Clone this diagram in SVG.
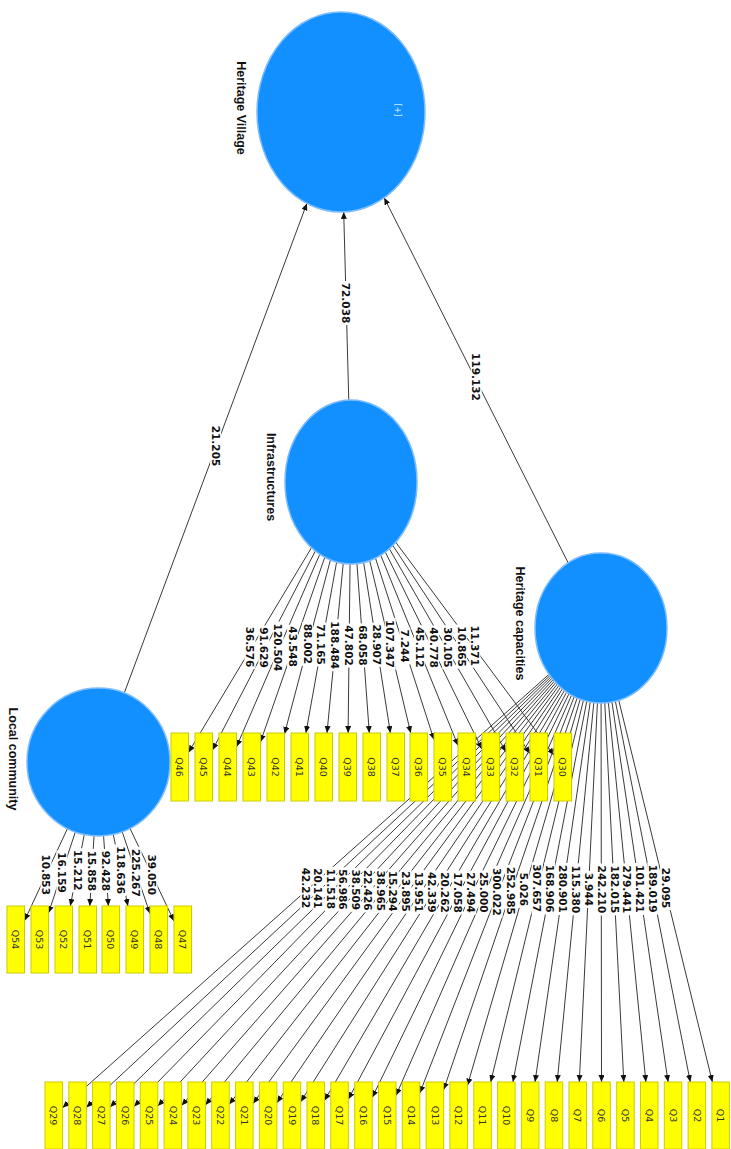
<svg xmlns="http://www.w3.org/2000/svg" width="731" height="1149" viewBox="0 0 731 1149">
<style>
.c line{stroke:#3a3a3a;stroke-width:1;fill:none;marker-end:url(#ah)}
.lb rect{fill:#fff}
.lb text{font-family:'DejaVu Sans',Verdana,sans-serif;font-weight:bold;font-size:10.5px;fill:#111;text-anchor:middle}
.lat ellipse{fill:#1290ff;stroke:#7dbcff;stroke-width:1.5}
.nm{font-family:'Liberation Sans',Arial,sans-serif;font-weight:bold;font-size:12.5px;fill:#111;text-anchor:middle}
.ind rect{fill:#ffff00;stroke:#cccc00;stroke-width:1}
.ind text{font-family:'DejaVu Sans',Verdana,sans-serif;font-size:9.5px;fill:#333;text-anchor:middle}
</style>
<defs>
<marker id="ah" markerUnits="userSpaceOnUse" markerWidth="8" markerHeight="7" refX="7" refY="3" orient="auto"><path d="M0,0 L7,3 L0,6 z" fill="#111"/></marker>
</defs>
<rect width="731" height="1149" fill="#fff"/>
<g id="connectors" class="c">
<line x1="98.5" y1="762" x2="306.9" y2="203.4"/>
<line x1="351" y1="482" x2="343.7" y2="211.9"/>
<line x1="601" y1="628" x2="384.2" y2="197.8"/>
<line x1="351" y1="482" x2="188.5" y2="752.4"/>
<line x1="351" y1="482" x2="212.5" y2="750.1"/>
<line x1="351" y1="482" x2="236.5" y2="746.8"/>
<line x1="351" y1="482" x2="260.5" y2="741.9"/>
<line x1="351" y1="482" x2="284.5" y2="733.9"/>
<line x1="351" y1="482" x2="305.9" y2="733"/>
<line x1="351" y1="482" x2="327" y2="733"/>
<line x1="351" y1="482" x2="348.1" y2="733"/>
<line x1="351" y1="482" x2="369.3" y2="733"/>
<line x1="351" y1="482" x2="390.4" y2="733"/>
<line x1="351" y1="482" x2="410.7" y2="733"/>
<line x1="351" y1="482" x2="434" y2="739.8"/>
<line x1="351" y1="482" x2="458" y2="745.5"/>
<line x1="351" y1="482" x2="482" y2="749.2"/>
<line x1="351" y1="482" x2="506" y2="751.8"/>
<line x1="351" y1="482" x2="530" y2="753.7"/>
<line x1="351" y1="482" x2="554" y2="755.2"/>
<line x1="98.5" y1="762" x2="24.5" y2="920.7"/>
<line x1="98.5" y1="762" x2="48.5" y2="913.1"/>
<line x1="98.5" y1="762" x2="70.3" y2="906"/>
<line x1="98.5" y1="762" x2="89.8" y2="906"/>
<line x1="98.5" y1="762" x2="108.4" y2="906"/>
<line x1="98.5" y1="762" x2="127.9" y2="906"/>
<line x1="98.5" y1="762" x2="150" y2="913.7"/>
<line x1="98.5" y1="762" x2="174" y2="921.1"/>
<line x1="601" y1="628" x2="62.5" y2="1107.7"/>
<line x1="601" y1="628" x2="86.3" y2="1107.4"/>
<line x1="601" y1="628" x2="110.1" y2="1107"/>
<line x1="601" y1="628" x2="134" y2="1106.5"/>
<line x1="601" y1="628" x2="157.8" y2="1106.1"/>
<line x1="601" y1="628" x2="181.6" y2="1105.5"/>
<line x1="601" y1="628" x2="205.4" y2="1105"/>
<line x1="601" y1="628" x2="229.2" y2="1104.3"/>
<line x1="601" y1="628" x2="253.1" y2="1103.5"/>
<line x1="601" y1="628" x2="276.9" y2="1102.7"/>
<line x1="601" y1="628" x2="300.7" y2="1101.7"/>
<line x1="601" y1="628" x2="324.5" y2="1100.5"/>
<line x1="601" y1="628" x2="348.3" y2="1099.2"/>
<line x1="601" y1="628" x2="372.2" y2="1097.5"/>
<line x1="601" y1="628" x2="396" y2="1095.5"/>
<line x1="601" y1="628" x2="419.8" y2="1093"/>
<line x1="601" y1="628" x2="443.6" y2="1089.8"/>
<line x1="601" y1="628" x2="467.4" y2="1085.5"/>
<line x1="601" y1="628" x2="490.7" y2="1082"/>
<line x1="601" y1="628" x2="512.9" y2="1082"/>
<line x1="601" y1="628" x2="535" y2="1082"/>
<line x1="601" y1="628" x2="557.2" y2="1082"/>
<line x1="601" y1="628" x2="579.3" y2="1082"/>
<line x1="601" y1="628" x2="601.5" y2="1082"/>
<line x1="601" y1="628" x2="623.8" y2="1082"/>
<line x1="601" y1="628" x2="645.9" y2="1082"/>
<line x1="601" y1="628" x2="668.1" y2="1082"/>
<line x1="601" y1="628" x2="690.3" y2="1082"/>
<line x1="601" y1="628" x2="712.4" y2="1082"/>
<g class="lb">
<g transform="translate(215.6,446) rotate(90)"><rect x="-22" y="-5.5" width="44" height="11"/><text dy="0.36em">21.205</text></g>
<g transform="translate(346.2,303) rotate(90)"><rect x="-22" y="-5.5" width="44" height="11"/><text dy="0.36em">72.038</text></g>
<g transform="translate(476.2,377) rotate(90)"><rect x="-26" y="-5.5" width="52" height="11"/><text dy="0.36em">119.132</text></g>
<g transform="translate(250,647) rotate(90)"><rect x="-22" y="-5.5" width="44" height="11"/><text dy="0.36em">36.576</text></g>
<g transform="translate(263.9,647.5) rotate(90)"><rect x="-22" y="-5.5" width="44" height="11"/><text dy="0.36em">91.629</text></g>
<g transform="translate(278.1,647.5) rotate(90)"><rect x="-26" y="-5.5" width="52" height="11"/><text dy="0.36em">120.504</text></g>
<g transform="translate(292.6,646.6) rotate(90)"><rect x="-22" y="-5.5" width="44" height="11"/><text dy="0.36em">43.548</text></g>
<g transform="translate(307.5,643.9) rotate(90)"><rect x="-22" y="-5.5" width="44" height="11"/><text dy="0.36em">88.002</text></g>
<g transform="translate(321.2,644.5) rotate(90)"><rect x="-22" y="-5.5" width="44" height="11"/><text dy="0.36em">71.165</text></g>
<g transform="translate(335.1,645.2) rotate(90)"><rect x="-26" y="-5.5" width="52" height="11"/><text dy="0.36em">188.484</text></g>
<g transform="translate(349.1,645.5) rotate(90)"><rect x="-22" y="-5.5" width="44" height="11"/><text dy="0.36em">47.802</text></g>
<g transform="translate(363.1,645.4) rotate(90)"><rect x="-22" y="-5.5" width="44" height="11"/><text dy="0.36em">68.058</text></g>
<g transform="translate(377,644.8) rotate(90)"><rect x="-22" y="-5.5" width="44" height="11"/><text dy="0.36em">28.907</text></g>
<g transform="translate(390.2,643.8) rotate(90)"><rect x="-26" y="-5.5" width="52" height="11"/><text dy="0.36em">107.347</text></g>
<g transform="translate(404.8,646) rotate(90)"><rect x="-18.5" y="-5.5" width="37" height="11"/><text dy="0.36em">7.244</text></g>
<g transform="translate(419.4,647.3) rotate(90)"><rect x="-22" y="-5.5" width="44" height="11"/><text dy="0.36em">45.112</text></g>
<g transform="translate(433.7,647.6) rotate(90)"><rect x="-22" y="-5.5" width="44" height="11"/><text dy="0.36em">40.778</text></g>
<g transform="translate(447.7,647.3) rotate(90)"><rect x="-22" y="-5.5" width="44" height="11"/><text dy="0.36em">30.105</text></g>
<g transform="translate(461.4,646.6) rotate(90)"><rect x="-22" y="-5.5" width="44" height="11"/><text dy="0.36em">10.865</text></g>
<g transform="translate(474.9,645.7) rotate(90)"><rect x="-22" y="-5.5" width="44" height="11"/><text dy="0.36em">11.371</text></g>
<g transform="translate(46,874.7) rotate(90)"><rect x="-22" y="-5.5" width="44" height="11"/><text dy="0.36em">10.853</text></g>
<g transform="translate(61.9,872.5) rotate(90)"><rect x="-22" y="-5.5" width="44" height="11"/><text dy="0.36em">16.159</text></g>
<g transform="translate(77.3,870.3) rotate(90)"><rect x="-22" y="-5.5" width="44" height="11"/><text dy="0.36em">15.212</text></g>
<g transform="translate(91.9,870.9) rotate(90)"><rect x="-22" y="-5.5" width="44" height="11"/><text dy="0.36em">15.858</text></g>
<g transform="translate(106,870.9) rotate(90)"><rect x="-22" y="-5.5" width="44" height="11"/><text dy="0.36em">92.428</text></g>
<g transform="translate(120.6,870.2) rotate(90)"><rect x="-26" y="-5.5" width="52" height="11"/><text dy="0.36em">118.636</text></g>
<g transform="translate(136.1,872.8) rotate(90)"><rect x="-26" y="-5.5" width="52" height="11"/><text dy="0.36em">225.267</text></g>
<g transform="translate(152,874.7) rotate(90)"><rect x="-22" y="-5.5" width="44" height="11"/><text dy="0.36em">39.050</text></g>
<g transform="translate(305.8,888) rotate(90)"><rect x="-22" y="-5.5" width="44" height="11"/><text dy="0.36em">42.232</text></g>
<g transform="translate(318.1,888.4) rotate(90)"><rect x="-22" y="-5.5" width="44" height="11"/><text dy="0.36em">20.141</text></g>
<g transform="translate(330.5,888.9) rotate(90)"><rect x="-22" y="-5.5" width="44" height="11"/><text dy="0.36em">11.518</text></g>
<g transform="translate(343,889.4) rotate(90)"><rect x="-22" y="-5.5" width="44" height="11"/><text dy="0.36em">56.986</text></g>
<g transform="translate(355.5,889.8) rotate(90)"><rect x="-22" y="-5.5" width="44" height="11"/><text dy="0.36em">38.509</text></g>
<g transform="translate(368,890.3) rotate(90)"><rect x="-22" y="-5.5" width="44" height="11"/><text dy="0.36em">22.426</text></g>
<g transform="translate(380.6,890.8) rotate(90)"><rect x="-22" y="-5.5" width="44" height="11"/><text dy="0.36em">38.965</text></g>
<g transform="translate(393.2,891.2) rotate(90)"><rect x="-22" y="-5.5" width="44" height="11"/><text dy="0.36em">15.294</text></g>
<g transform="translate(406,891.6) rotate(90)"><rect x="-22" y="-5.5" width="44" height="11"/><text dy="0.36em">23.895</text></g>
<g transform="translate(418.7,892) rotate(90)"><rect x="-22" y="-5.5" width="44" height="11"/><text dy="0.36em">13.951</text></g>
<g transform="translate(431.6,892.3) rotate(90)"><rect x="-22" y="-5.5" width="44" height="11"/><text dy="0.36em">42.339</text></g>
<g transform="translate(444.5,892.5) rotate(90)"><rect x="-22" y="-5.5" width="44" height="11"/><text dy="0.36em">20.262</text></g>
<g transform="translate(457.5,892.6) rotate(90)"><rect x="-22" y="-5.5" width="44" height="11"/><text dy="0.36em">17.058</text></g>
<g transform="translate(470.6,892.6) rotate(90)"><rect x="-22" y="-5.5" width="44" height="11"/><text dy="0.36em">27.494</text></g>
<g transform="translate(483.8,892.3) rotate(90)"><rect x="-22" y="-5.5" width="44" height="11"/><text dy="0.36em">25.000</text></g>
<g transform="translate(497,891.8) rotate(90)"><rect x="-26" y="-5.5" width="52" height="11"/><text dy="0.36em">300.022</text></g>
<g transform="translate(510.4,890.9) rotate(90)"><rect x="-26" y="-5.5" width="52" height="11"/><text dy="0.36em">252.985</text></g>
<g transform="translate(523.8,889.4) rotate(90)"><rect x="-18.5" y="-5.5" width="37" height="11"/><text dy="0.36em">5.026</text></g>
<g transform="translate(537.1,888.2) rotate(90)"><rect x="-26" y="-5.5" width="52" height="11"/><text dy="0.36em">307.657</text></g>
<g transform="translate(549.8,888.6) rotate(90)"><rect x="-26" y="-5.5" width="52" height="11"/><text dy="0.36em">168.906</text></g>
<g transform="translate(562.6,889) rotate(90)"><rect x="-26" y="-5.5" width="52" height="11"/><text dy="0.36em">280.901</text></g>
<g transform="translate(575.5,889.3) rotate(90)"><rect x="-26" y="-5.5" width="52" height="11"/><text dy="0.36em">115.380</text></g>
<g transform="translate(588.4,889.4) rotate(90)"><rect x="-18.5" y="-5.5" width="37" height="11"/><text dy="0.36em">3.944</text></g>
<g transform="translate(601.3,889.5) rotate(90)"><rect x="-26" y="-5.5" width="52" height="11"/><text dy="0.36em">242.210</text></g>
<g transform="translate(614.3,889.4) rotate(90)"><rect x="-26" y="-5.5" width="52" height="11"/><text dy="0.36em">182.015</text></g>
<g transform="translate(627.2,889.3) rotate(90)"><rect x="-26" y="-5.5" width="52" height="11"/><text dy="0.36em">279.441</text></g>
<g transform="translate(640,889) rotate(90)"><rect x="-26" y="-5.5" width="52" height="11"/><text dy="0.36em">101.421</text></g>
<g transform="translate(652.8,888.6) rotate(90)"><rect x="-26" y="-5.5" width="52" height="11"/><text dy="0.36em">189.019</text></g>
<g transform="translate(665.6,888.1) rotate(90)"><rect x="-22" y="-5.5" width="44" height="11"/><text dy="0.36em">29.095</text></g>
</g>
</g>
<g id="HeritageVillage" class="lat">
<ellipse cx="341" cy="112" rx="84" ry="100"/>
<text class="nm" transform="translate(241,108) rotate(90)" dy="0.36em">Heritage Village</text>
<text transform="translate(398,110) rotate(90)" dy="0.35em" font-family="'DejaVu Sans',sans-serif" font-size="8" fill="#d6ebff" text-anchor="middle">[+]</text>
</g>
<g id="Infrastructures" class="lat">
<ellipse cx="351" cy="482" rx="66" ry="82"/>
<text class="nm" transform="translate(271,477) rotate(90)" dy="0.36em">Infrastructures</text>
</g>
<g id="HeritageCapacities" class="lat">
<ellipse cx="601" cy="628" rx="66" ry="75"/>
<text class="nm" transform="translate(520,623.5) rotate(90)" dy="0.36em">Heritage capacities</text>
</g>
<g id="LocalCommunity" class="lat">
<ellipse cx="98.5" cy="762" rx="71.5" ry="74"/>
<text class="nm" transform="translate(13,759) rotate(90)" dy="0.36em">Local community</text>
</g>
<g id="Q46" class="ind"><rect x="171" y="733" width="17.5" height="68"/><text transform="translate(179.75,767) rotate(90)" dy="0.35em">Q46</text></g>
<g id="Q45" class="ind"><rect x="195" y="733" width="17.5" height="68"/><text transform="translate(203.75,767) rotate(90)" dy="0.35em">Q45</text></g>
<g id="Q44" class="ind"><rect x="219" y="733" width="17.5" height="68"/><text transform="translate(227.75,767) rotate(90)" dy="0.35em">Q44</text></g>
<g id="Q43" class="ind"><rect x="243" y="733" width="17.5" height="68"/><text transform="translate(251.75,767) rotate(90)" dy="0.35em">Q43</text></g>
<g id="Q42" class="ind"><rect x="267" y="733" width="17.5" height="68"/><text transform="translate(275.75,767) rotate(90)" dy="0.35em">Q42</text></g>
<g id="Q41" class="ind"><rect x="291" y="733" width="17.5" height="68"/><text transform="translate(299.75,767) rotate(90)" dy="0.35em">Q41</text></g>
<g id="Q40" class="ind"><rect x="315" y="733" width="17.5" height="68"/><text transform="translate(323.75,767) rotate(90)" dy="0.35em">Q40</text></g>
<g id="Q39" class="ind"><rect x="339" y="733" width="17.5" height="68"/><text transform="translate(347.75,767) rotate(90)" dy="0.35em">Q39</text></g>
<g id="Q38" class="ind"><rect x="363" y="733" width="17.5" height="68"/><text transform="translate(371.75,767) rotate(90)" dy="0.35em">Q38</text></g>
<g id="Q37" class="ind"><rect x="387" y="733" width="17.5" height="68"/><text transform="translate(395.75,767) rotate(90)" dy="0.35em">Q37</text></g>
<g id="Q36" class="ind"><rect x="410" y="733" width="17.5" height="68"/><text transform="translate(418.75,767) rotate(90)" dy="0.35em">Q36</text></g>
<g id="Q35" class="ind"><rect x="434" y="733" width="17.5" height="68"/><text transform="translate(442.75,767) rotate(90)" dy="0.35em">Q35</text></g>
<g id="Q34" class="ind"><rect x="458" y="733" width="17.5" height="68"/><text transform="translate(466.75,767) rotate(90)" dy="0.35em">Q34</text></g>
<g id="Q33" class="ind"><rect x="482" y="733" width="17.5" height="68"/><text transform="translate(490.75,767) rotate(90)" dy="0.35em">Q33</text></g>
<g id="Q32" class="ind"><rect x="506" y="733" width="17.5" height="68"/><text transform="translate(514.75,767) rotate(90)" dy="0.35em">Q32</text></g>
<g id="Q31" class="ind"><rect x="530" y="733" width="17.5" height="68"/><text transform="translate(538.75,767) rotate(90)" dy="0.35em">Q31</text></g>
<g id="Q30" class="ind"><rect x="554" y="733" width="17.5" height="68"/><text transform="translate(562.75,767) rotate(90)" dy="0.35em">Q30</text></g>
<g id="Q54" class="ind"><rect x="7" y="906" width="17.5" height="67"/><text transform="translate(15.75,939.5) rotate(90)" dy="0.35em">Q54</text></g>
<g id="Q53" class="ind"><rect x="31" y="906" width="17.5" height="67"/><text transform="translate(39.75,939.5) rotate(90)" dy="0.35em">Q53</text></g>
<g id="Q52" class="ind"><rect x="55" y="906" width="17.5" height="67"/><text transform="translate(63.75,939.5) rotate(90)" dy="0.35em">Q52</text></g>
<g id="Q51" class="ind"><rect x="79" y="906" width="17.5" height="67"/><text transform="translate(87.75,939.5) rotate(90)" dy="0.35em">Q51</text></g>
<g id="Q50" class="ind"><rect x="102" y="906" width="17.5" height="67"/><text transform="translate(110.75,939.5) rotate(90)" dy="0.35em">Q50</text></g>
<g id="Q49" class="ind"><rect x="126" y="906" width="17.5" height="67"/><text transform="translate(134.75,939.5) rotate(90)" dy="0.35em">Q49</text></g>
<g id="Q48" class="ind"><rect x="150" y="906" width="17.5" height="67"/><text transform="translate(158.75,939.5) rotate(90)" dy="0.35em">Q48</text></g>
<g id="Q47" class="ind"><rect x="174" y="906" width="17.5" height="67"/><text transform="translate(182.75,939.5) rotate(90)" dy="0.35em">Q47</text></g>
<g id="Q29" class="ind"><rect x="45" y="1082" width="17.5" height="67"/><text transform="translate(53.75,1115.5) rotate(90)" dy="0.35em">Q29</text></g>
<g id="Q28" class="ind"><rect x="68.8" y="1082" width="17.5" height="67"/><text transform="translate(77.55,1115.5) rotate(90)" dy="0.35em">Q28</text></g>
<g id="Q27" class="ind"><rect x="92.6" y="1082" width="17.5" height="67"/><text transform="translate(101.35,1115.5) rotate(90)" dy="0.35em">Q27</text></g>
<g id="Q26" class="ind"><rect x="116.5" y="1082" width="17.5" height="67"/><text transform="translate(125.25,1115.5) rotate(90)" dy="0.35em">Q26</text></g>
<g id="Q25" class="ind"><rect x="140.3" y="1082" width="17.5" height="67"/><text transform="translate(149.05,1115.5) rotate(90)" dy="0.35em">Q25</text></g>
<g id="Q24" class="ind"><rect x="164.1" y="1082" width="17.5" height="67"/><text transform="translate(172.85,1115.5) rotate(90)" dy="0.35em">Q24</text></g>
<g id="Q23" class="ind"><rect x="187.9" y="1082" width="17.5" height="67"/><text transform="translate(196.65,1115.5) rotate(90)" dy="0.35em">Q23</text></g>
<g id="Q22" class="ind"><rect x="211.7" y="1082" width="17.5" height="67"/><text transform="translate(220.45,1115.5) rotate(90)" dy="0.35em">Q22</text></g>
<g id="Q21" class="ind"><rect x="235.6" y="1082" width="17.5" height="67"/><text transform="translate(244.35,1115.5) rotate(90)" dy="0.35em">Q21</text></g>
<g id="Q20" class="ind"><rect x="259.4" y="1082" width="17.5" height="67"/><text transform="translate(268.15,1115.5) rotate(90)" dy="0.35em">Q20</text></g>
<g id="Q19" class="ind"><rect x="283.2" y="1082" width="17.5" height="67"/><text transform="translate(291.95,1115.5) rotate(90)" dy="0.35em">Q19</text></g>
<g id="Q18" class="ind"><rect x="307" y="1082" width="17.5" height="67"/><text transform="translate(315.75,1115.5) rotate(90)" dy="0.35em">Q18</text></g>
<g id="Q17" class="ind"><rect x="330.8" y="1082" width="17.5" height="67"/><text transform="translate(339.55,1115.5) rotate(90)" dy="0.35em">Q17</text></g>
<g id="Q16" class="ind"><rect x="354.7" y="1082" width="17.5" height="67"/><text transform="translate(363.45,1115.5) rotate(90)" dy="0.35em">Q16</text></g>
<g id="Q15" class="ind"><rect x="378.5" y="1082" width="17.5" height="67"/><text transform="translate(387.25,1115.5) rotate(90)" dy="0.35em">Q15</text></g>
<g id="Q14" class="ind"><rect x="402.3" y="1082" width="17.5" height="67"/><text transform="translate(411.05,1115.5) rotate(90)" dy="0.35em">Q14</text></g>
<g id="Q13" class="ind"><rect x="426.1" y="1082" width="17.5" height="67"/><text transform="translate(434.85,1115.5) rotate(90)" dy="0.35em">Q13</text></g>
<g id="Q12" class="ind"><rect x="449.9" y="1082" width="17.5" height="67"/><text transform="translate(458.65,1115.5) rotate(90)" dy="0.35em">Q12</text></g>
<g id="Q11" class="ind"><rect x="473.8" y="1082" width="17.5" height="67"/><text transform="translate(482.55,1115.5) rotate(90)" dy="0.35em">Q11</text></g>
<g id="Q10" class="ind"><rect x="497.6" y="1082" width="17.5" height="67"/><text transform="translate(506.35,1115.5) rotate(90)" dy="0.35em">Q10</text></g>
<g id="Q9" class="ind"><rect x="521.4" y="1082" width="17.5" height="67"/><text transform="translate(530.15,1115.5) rotate(90)" dy="0.35em">Q9</text></g>
<g id="Q8" class="ind"><rect x="545.2" y="1082" width="17.5" height="67"/><text transform="translate(553.95,1115.5) rotate(90)" dy="0.35em">Q8</text></g>
<g id="Q7" class="ind"><rect x="569" y="1082" width="17.5" height="67"/><text transform="translate(577.75,1115.5) rotate(90)" dy="0.35em">Q7</text></g>
<g id="Q6" class="ind"><rect x="592.8" y="1082" width="17.5" height="67"/><text transform="translate(601.55,1115.5) rotate(90)" dy="0.35em">Q6</text></g>
<g id="Q5" class="ind"><rect x="616.7" y="1082" width="17.5" height="67"/><text transform="translate(625.45,1115.5) rotate(90)" dy="0.35em">Q5</text></g>
<g id="Q4" class="ind"><rect x="640.5" y="1082" width="17.5" height="67"/><text transform="translate(649.25,1115.5) rotate(90)" dy="0.35em">Q4</text></g>
<g id="Q3" class="ind"><rect x="664.3" y="1082" width="17.5" height="67"/><text transform="translate(673.05,1115.5) rotate(90)" dy="0.35em">Q3</text></g>
<g id="Q2" class="ind"><rect x="688.1" y="1082" width="17.5" height="67"/><text transform="translate(696.85,1115.5) rotate(90)" dy="0.35em">Q2</text></g>
<g id="Q1" class="ind"><rect x="711.9" y="1082" width="17.5" height="67"/><text transform="translate(720.65,1115.5) rotate(90)" dy="0.35em">Q1</text></g>
</svg>
